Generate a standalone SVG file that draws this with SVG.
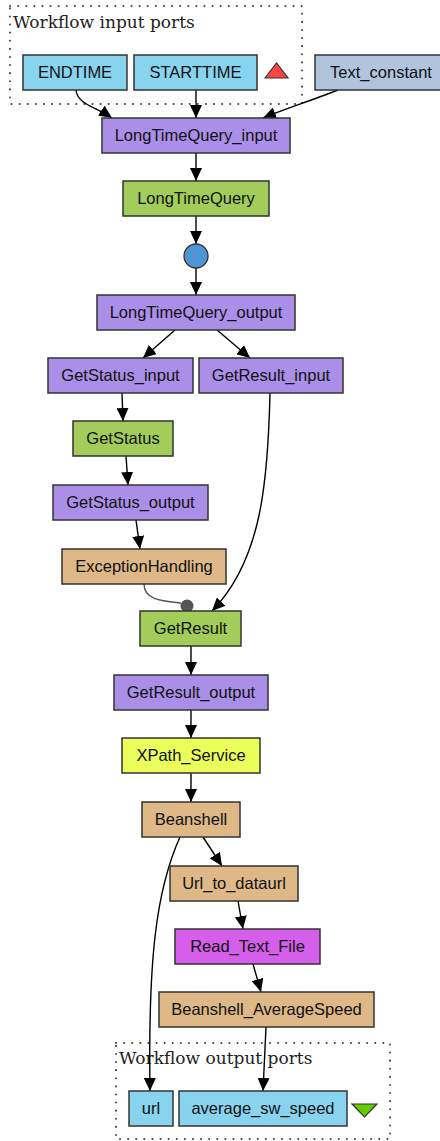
<svg xmlns="http://www.w3.org/2000/svg" width="440" height="1141" viewBox="0 0 440 1141">
<style>
.n{stroke:#333;stroke-width:1.5}
.t{font-family:"Liberation Sans",Arial,sans-serif;font-size:16.5px;fill:#111;text-anchor:middle}
.c{font-family:"DejaVu Serif",serif;font-size:17px;fill:#222}
.cl{fill:none;stroke:#444;stroke-width:2;stroke-dasharray:0.1 8;stroke-linecap:round}
.port{fill:#88d4ef}
.proc{fill:#aa8fe8}
.svc{fill:#a2cd5a}
.bsh{fill:#deb887}
.e{fill:none;stroke:#000;stroke-width:1.4;marker-end:url(#a)}
</style>
<defs>
<marker id="a" markerUnits="userSpaceOnUse" markerWidth="14" markerHeight="12" refX="13" refY="6" orient="auto">
<path d="M0,0 L13,6 L0,12 z" fill="#000"/>
</marker>
</defs>
<rect width="440" height="1141" fill="#fff"/>
<g id="cluster_inputs">
<rect class="cl" x="10" y="6" width="292" height="98"/>
<text class="c" x="13" y="28">Workflow input ports</text>
</g>
<g id="cluster_outputs">
<rect class="cl" x="116" y="1043" width="274" height="96"/>
<text class="c" x="119" y="1064">Workflow output ports</text>
</g>
<g id="edges">
<path class="e" d="M76,90 C77,104 96,107 112,118"/>
<path class="e" d="M196,90 L196,118"/>
<path class="e" d="M338,90 C310,101 285,109 263,118"/>
<path class="e" d="M196,153 L196,181"/>
<path class="e" d="M196,216 L196,244"/>
<path class="e" d="M196,268 L196,295"/>
<path class="e" d="M175,330 L143,358"/>
<path class="e" d="M217,330 L250,358"/>
<path class="e" d="M122,393 L123,421"/>
<path class="e" d="M126,456 L128,485"/>
<path class="e" d="M136,520 L140,549"/>
<path class="e" d="M270,393 C268,480 262,560 212,611"/>
<path d="M144,584 C144,600 162,601 181,603" fill="none" stroke="#555" stroke-width="1.4"/>
<circle cx="187" cy="606" r="6.5" fill="#555"/>
<path class="e" d="M191,646 L191,675"/>
<path class="e" d="M191,710 L191,738"/>
<path class="e" d="M191,773 L191,802"/>
<path class="e" d="M203,837 L222,866"/>
<path class="e" d="M180,837 C156,890 148,960 150,1091"/>
<path class="e" d="M238,901 L243,929"/>
<path class="e" d="M253,964 L261,992"/>
<path class="e" d="M266,1027 L263,1091"/>
</g>
<g id="ENDTIME"><rect class="n port" x="23" y="55" width="104" height="35"/><text class="t" x="75" y="78">ENDTIME</text></g>
<g id="STARTTIME"><rect class="n port" x="134" y="55" width="123" height="35"/><text class="t" x="195.5" y="78">STARTTIME</text></g>
<g id="input_marker"><path d="M265,78 L276.5,63 L288,78 z" fill="#ff4444" stroke="#333" stroke-width="1.2"/></g>
<g id="Text_constant"><rect class="n" fill="#b0c4de" x="315" y="55" width="132" height="35"/><text class="t" x="381" y="78">Text_constant</text></g>
<g id="LongTimeQuery_input"><rect class="n proc" x="102" y="118" width="188" height="35"/><text class="t" x="196" y="141">LongTimeQuery_input</text></g>
<g id="LongTimeQuery"><rect class="n svc" x="123" y="181" width="146" height="35"/><text class="t" x="196" y="204">LongTimeQuery</text></g>
<g id="LongTimeQuery_merge"><circle cx="196" cy="256" r="12" fill="#4f94d4" stroke="#333" stroke-width="1.3"/></g>
<g id="LongTimeQuery_output"><rect class="n proc" x="97" y="295" width="198" height="35"/><text class="t" x="196" y="318">LongTimeQuery_output</text></g>
<g id="GetStatus_input"><rect class="n proc" x="48" y="358" width="145" height="35"/><text class="t" x="120.5" y="381">GetStatus_input</text></g>
<g id="GetResult_input"><rect class="n proc" x="199" y="358" width="144" height="35"/><text class="t" x="271" y="381">GetResult_input</text></g>
<g id="GetStatus"><rect class="n svc" x="73" y="421" width="100" height="35"/><text class="t" x="123" y="444">GetStatus</text></g>
<g id="GetStatus_output"><rect class="n proc" x="53" y="485" width="155" height="35"/><text class="t" x="130.5" y="508">GetStatus_output</text></g>
<g id="ExceptionHandling"><rect class="n bsh" x="62" y="549" width="164" height="35"/><text class="t" x="144" y="572">ExceptionHandling</text></g>
<g id="GetResult"><rect class="n svc" x="140" y="611" width="101" height="35"/><text class="t" x="190.5" y="634">GetResult</text></g>
<g id="GetResult_output"><rect class="n proc" x="114" y="675" width="154" height="35"/><text class="t" x="191" y="698">GetResult_output</text></g>
<g id="XPath_Service"><rect class="n" fill="#eaff5a" x="122" y="738" width="138" height="35"/><text class="t" x="191" y="761">XPath_Service</text></g>
<g id="Beanshell"><rect class="n bsh" x="142" y="802" width="98" height="35"/><text class="t" x="191" y="825">Beanshell</text></g>
<g id="Url_to_dataurl"><rect class="n bsh" x="170" y="866" width="128" height="35"/><text class="t" x="234" y="889">Url_to_dataurl</text></g>
<g id="Read_Text_File"><rect class="n" fill="#d55eea" x="175" y="929" width="145" height="35"/><text class="t" x="247.5" y="952">Read_Text_File</text></g>
<g id="Beanshell_AverageSpeed"><rect class="n bsh" x="159" y="992" width="215" height="35"/><text class="t" x="266.5" y="1015">Beanshell_AverageSpeed</text></g>
<g id="url"><rect class="n port" x="129" y="1091" width="44" height="35"/><text class="t" x="151" y="1114">url</text></g>
<g id="average_sw_speed"><rect class="n port" x="179" y="1091" width="168" height="35"/><text class="t" x="263" y="1114">average_sw_speed</text></g>
<g id="output_marker"><path d="M352,1104 L377,1104 L364.5,1117 z" fill="#66cc00" stroke="#333" stroke-width="1.2"/></g>
</svg>
